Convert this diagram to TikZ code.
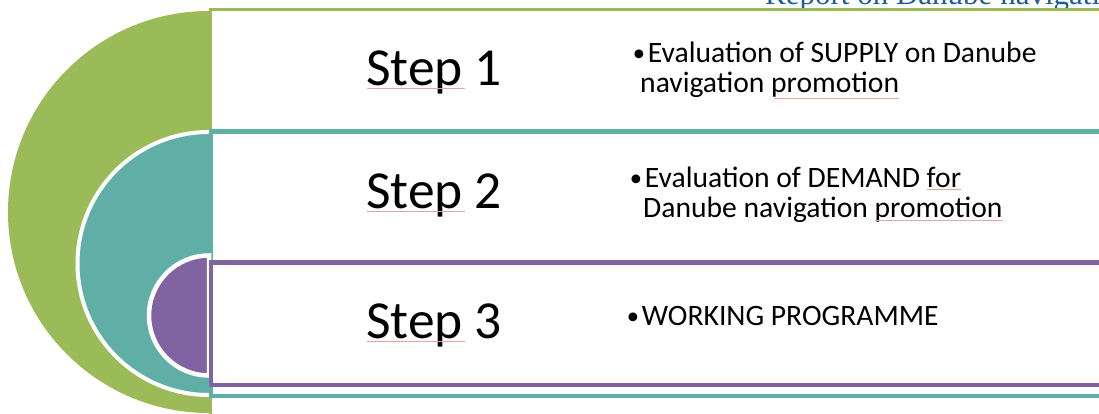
\documentclass[tikz,border=0pt]{standalone}
\usepackage{fontspec}
\setmainfont{Carlito}
\newfontfamily\hdrfont{Liberation Serif}
\newfontfamily\bulfont{DejaVu Sans}
\definecolor{gr}{HTML}{9BBB59}
\definecolor{tl}{HTML}{5FAFA6}
\definecolor{pu}{HTML}{8064A2}
\definecolor{hb}{HTML}{1F5B99}
\definecolor{sq}{HTML}{E9A3A3}
\newcommand{\bul}{{\bulfont\fontsize{30}{30}\selectfont\raisebox{-3pt}{•}}}
\tikzset{
  halfdisk/.style={draw=white, line width=4.5pt},
  stepbox/.style={fill=white, line width=4.5pt},
  steptxt/.style={anchor=base west, inner sep=0pt, font=\fontsize{53.5}{54}\selectfont},
  bultxt/.style={anchor=base west, inner sep=0pt, font=\fontsize{29.6}{30}\selectfont},
  squiggle/.style={draw=sq, line width=0.8pt},
}
\begin{document}
\begin{tikzpicture}[x=1pt,y=-1pt]
\useasboundingbox (0,0) rectangle (1099,414);
\clip (0,0) rectangle (1099,414);
\fill[white] (0,0) rectangle (1099,414);
% header
\node[anchor=base west, inner sep=0pt, text=hb, font=\hdrfont\fontsize{31}{31}\selectfont] (hd) at (765,5) {Report on Danube navigation};
% green level
\draw[draw=gr, fill=white, line width=3pt] (210,9.5) rectangle (1115,430);
\fill[gr] (209,11) arc[start angle=270, end angle=90, radius=201] -- cycle;
% teal level
\fill[tl] (209,132) arc[start angle=270, end angle=90, radius=131.5] -- cycle;
\draw[draw=white, line width=4pt] (209,132) arc[start angle=270, end angle=90, radius=131.5];
\draw[stepbox, draw=tl] (211,131.5) rectangle (1115,396);
% purple level
\draw[halfdisk, fill=pu] (209,255.5) arc[start angle=270, end angle=90, radius=60] -- cycle;
\draw[stepbox, draw=pu] (211,262.5) rectangle (1115,385);
% step labels
\node[steptxt] (st1) at (366,86) {Step 1};
\node[steptxt] (st2) at (366,208.5) {Step 2};
\node[steptxt] (st3) at (366,338.5) {Step 3};
% bullet texts
\node[bultxt] (b1a) at (630,63) {\bul Evaluation of SUPPLY on Danube};
\node[bultxt] (b1b) at (640,93) {navigation promotion};
\node[bultxt] (b2a) at (627,187) {\bul Evaluation of DEMAND for};
\node[bultxt] (b2b) at (643,217) {Danube navigation promotion};
\node[bultxt] (b3) at (624,325) {\bul WORKING PROGRAMME};
% spell-check underlines
\draw[squiggle] (367,88) -- (465,88);
\draw[squiggle] (367,211) -- (465,211);
\draw[squiggle] (367,341) -- (465,341);
\draw[squiggle] (774,98) -- (899,98);
\draw[squiggle] (927,189) -- (961,189);
\draw[squiggle] (875,220) -- (1003,220);
\end{tikzpicture}
\end{document}
